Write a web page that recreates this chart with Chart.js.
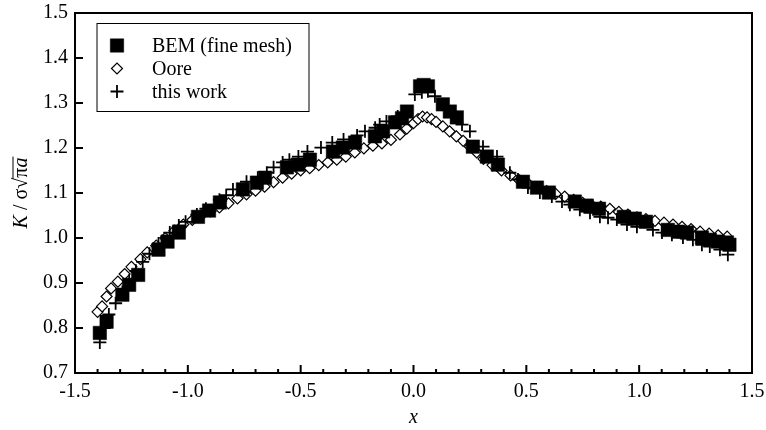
<!DOCTYPE html>
<html>
<head>
<meta charset="utf-8">
<script src="https://cdn.jsdelivr.net/npm/chart.js@4.4.0/dist/chart.umd.min.js"></script>
<style>
  body { margin: 0; background: #fff; }
  #box { width: 766px; height: 430px; }
</style>
</head>
<body>
<div id="box"><canvas id="grafico"></canvas></div>
<script>
// BEM (fine mesh)
var bemX = [-1.39, -1.36, -1.29, -1.26, -1.22, -1.13, -1.09, -1.04, -0.955, -0.906, -0.858, -0.756, -0.694, -0.658,
  -0.561, -0.512, -0.459, -0.357, -0.313, -0.259, -0.171, -0.135, -0.082, -0.051, -0.029, 0.029, 0.045, 0.064,
  0.130, 0.161, 0.192, 0.263, 0.325, 0.374, 0.485, 0.547, 0.600, 0.715, 0.768, 0.822, 0.932, 0.981, 1.030,
  1.127, 1.172, 1.212, 1.278, 1.313, 1.349, 1.389, 1.40]
var bemY = [0.789, 0.814, 0.874, 0.896, 0.918, 0.974, 0.992, 1.012, 1.047, 1.061, 1.079, 1.108, 1.123, 1.134,
  1.157, 1.163, 1.174, 1.192, 1.201, 1.212, 1.226, 1.237, 1.257, 1.266, 1.281, 1.337, 1.340, 1.337,
  1.297, 1.281, 1.268, 1.203, 1.181, 1.163, 1.125, 1.112, 1.101, 1.081, 1.072, 1.065, 1.047, 1.043, 1.036,
  1.018, 1.014, 1.012, 1.001, 0.996, 0.992, 0.990, 0.985]

// Oore
var ooreX = [-1.40, -1.38, -1.36, -1.34, -1.31, -1.28, -1.25, -1.21, -1.18, -1.14, -1.10, -1.06, -1.02, -0.98,
  -0.94, -0.90, -0.86, -0.82, -0.78, -0.74, -0.70, -0.66, -0.62, -0.58, -0.54, -0.50, -0.46, -0.42, -0.38,
  -0.34, -0.30, -0.26, -0.22, -0.18, -0.14, -0.10, -0.06, -0.03, 0.00, 0.02, 0.04, 0.06, 0.08, 0.10, 0.13,
  0.16, 0.19, 0.22, 0.25, 0.28, 0.31, 0.35, 0.39, 0.43, 0.47, 0.51, 0.55, 0.59, 0.63, 0.67, 0.71, 0.75,
  0.79, 0.83, 0.87, 0.91, 0.95, 0.99, 1.03, 1.07, 1.11, 1.15, 1.19, 1.23, 1.27, 1.31, 1.35, 1.39]
var ooreY = [0.836, 0.848, 0.870, 0.888, 0.903, 0.920, 0.936, 0.953, 0.968, 0.983, 1.000, 1.016, 1.030, 1.040,
  1.050, 1.059, 1.068, 1.077, 1.088, 1.097, 1.105, 1.114, 1.124, 1.134, 1.143, 1.150, 1.155, 1.162, 1.168,
  1.174, 1.181, 1.190, 1.199, 1.205, 1.210, 1.218, 1.230, 1.243, 1.255, 1.264, 1.270, 1.268, 1.264, 1.258, 1.248,
  1.237, 1.226, 1.216, 1.203, 1.190, 1.176, 1.162, 1.150, 1.139, 1.128, 1.120, 1.112, 1.104, 1.098, 1.092, 1.085, 1.078,
  1.073, 1.070, 1.065, 1.058, 1.052, 1.046, 1.042, 1.038, 1.034, 1.030, 1.025, 1.020, 1.014, 1.010, 1.006, 1.003]

// this work
var workX = [-1.39, -1.37, -1.35, -1.32, -1.29, -1.26, -1.23, -1.20, -1.17, -1.13, -1.08, -1.04, -1.01, -0.96,
  -0.92, -0.86, -0.83, -0.80, -0.74, -0.69, -0.65, -0.62, -0.58, -0.55, -0.51, -0.47, -0.41, -0.36, -0.31,
  -0.25, -0.215, -0.17, -0.15, -0.12, -0.07, 0.006, 0.037, 0.064, 0.095, 0.148, 0.215, 0.25, 0.308, 0.370,
  0.427, 0.463, 0.507, 0.560, 0.613, 0.658, 0.693, 0.737, 0.782, 0.826, 0.862, 0.901, 0.946, 0.990, 1.061,
  1.101, 1.145, 1.194, 1.238, 1.278, 1.313, 1.358, 1.393]
var workY = [0.768, 0.800, 0.830, 0.855, 0.880, 0.905, 0.927, 0.947, 0.965, 0.988, 1.012, 1.028, 1.036, 1.052,
  1.065, 1.085, 1.095, 1.108, 1.125, 1.134, 1.145, 1.157, 1.168, 1.174, 1.181, 1.192, 1.201, 1.212, 1.219,
  1.228, 1.237, 1.245, 1.252, 1.259, 1.270, 1.319, 1.324, 1.326, 1.315, 1.286, 1.252, 1.237, 1.203, 1.181,
  1.145, 1.130, 1.112, 1.101, 1.092, 1.081, 1.074, 1.063, 1.056, 1.047, 1.045, 1.041, 1.030, 1.025, 1.018,
  1.012, 1.007, 1.001, 0.996, 0.985, 0.981, 0.974, 0.963]

var fonte = "Liberation Serif"

function pontos(xs, ys) {
  return xs.map((v, i) => ({ x: v, y: ys[i] }))
}

// caixa dos eixos com ticks para dentro
var eixos = {
  id: 'eixos',
  afterDraw(chart) {
    var ctx = chart.ctx
    var a = chart.chartArea
    var x = chart.scales.x
    var y = chart.scales.y
    ctx.save()
    ctx.strokeStyle = '#000'
    ctx.lineWidth = 2
    ctx.strokeRect(a.left, a.top, a.right - a.left, a.bottom - a.top)
    ctx.beginPath()
    for (var i = -15; i <= 15; i++) {
      var px = x.getPixelForValue(i / 10)
      var len = (i % 5 === 0) ? 8 : 4
      ctx.moveTo(px, a.bottom)
      ctx.lineTo(px, a.bottom - len)
    }
    y.ticks.forEach(t => {
      var py = y.getPixelForValue(t.value)
      ctx.moveTo(a.left, py)
      ctx.lineTo(a.left + 8, py)
    })
    ctx.stroke()

    // titulo do eixo y: K / σ√(πa)
    ctx.translate(22, (a.top + a.bottom) / 2)
    ctx.rotate(-Math.PI / 2)
    ctx.fillStyle = '#000'
    ctx.textBaseline = 'middle'
    ctx.textAlign = 'left'
    var partes = [
      { t: 'K', f: 'italic 20px ' + fonte },
      { t: ' / σ', f: '20px ' + fonte },
      { t: '√', f: '20px ' + fonte },
      { t: 'π', f: '20px ' + fonte, barra: true },
      { t: 'a', f: 'italic 20px ' + fonte, barra: true }
    ]
    var total = 0
    partes.forEach(p => { ctx.font = p.f; p.w = ctx.measureText(p.t).width; total += p.w })
    var cx = -total / 2
    var inicioBarra = null
    partes.forEach(p => {
      ctx.font = p.f
      ctx.fillText(p.t, cx, 0)
      if (p.barra && inicioBarra === null) inicioBarra = cx
      cx += p.w
    })
    ctx.lineWidth = 1
    ctx.beginPath()
    ctx.moveTo(inicioBarra - 1, -9)
    ctx.lineTo(cx + 1, -9)
    ctx.stroke()
    ctx.restore()

    // legenda
    ctx.save()
    var lx = a.left + 22
    var ly = a.top + 10.5
    ctx.strokeStyle = '#000'
    ctx.lineWidth = 1
    ctx.strokeRect(lx, ly, 212, 88)
    ctx.font = '20px ' + fonte
    ctx.textBaseline = 'middle'
    ctx.fillStyle = '#000'
    var ordem = [0, 1, 2]
    ordem.forEach((k, j) => {
      var ds = chart.data.datasets[k]
      var my = ly + 22 + j * 23
      ctx.fillStyle = ds.pointBackgroundColor
      ctx.strokeStyle = ds.pointBorderColor
      ctx.lineWidth = ds.pointBorderWidth
      Chart.helpers.drawPoint(ctx, {
        pointStyle: ds.pointStyle,
        radius: ds.pointRadius,
        rotation: 0,
        borderWidth: ds.pointBorderWidth
      }, lx + 20, my)
      ctx.fillStyle = '#000'
      ctx.fillText(ds.label, lx + 55, my + 1)
    })
    ctx.restore()
  }
}

var canvas = document.getElementById("grafico")

var grafico = new Chart(canvas, {
  type: 'scatter',
  data: {
    datasets: [{
      label: 'BEM (fine mesh)',
      data: pontos(bemX, bemY),
      pointStyle: 'rect',
      pointRadius: 9.5,
      pointBackgroundColor: '#000',
      pointBorderColor: '#000',
      pointBorderWidth: 0.5,
      order: 2
    }, {
      label: 'Oore',
      data: pontos(ooreX, ooreY),
      pointStyle: 'rectRot',
      pointRadius: 5.5,
      pointBackgroundColor: '#fff',
      pointBorderColor: '#000',
      pointBorderWidth: 1.2,
      order: 3
    }, {
      label: 'this work',
      data: pontos(workX, workY),
      pointStyle: 'cross',
      pointRadius: 6.5,
      pointBackgroundColor: '#000',
      pointBorderColor: '#000',
      pointBorderWidth: 1.8,
      order: 1
    }]
  },
  options: {
    responsive: true,
    maintainAspectRatio: false,
    animation: false,
    layout: { padding: { top: 13, right: 14, left: 0, bottom: 0 } },
    plugins: {
      legend: { display: false },
      tooltip: { enabled: false }
    },
    scales: {
      x: {
        type: 'linear',
        min: -1.5,
        max: 1.5,
        grid: { display: false, drawTicks: false },
        border: { display: false },
        ticks: {
          stepSize: 0.5,
          padding: 7,
          color: '#000',
          font: { family: fonte, size: 20 },
          maxRotation: 0,
          callback: v => v.toFixed(1)
        },
        title: {
          display: true,
          text: 'x',
          color: '#000',
          font: { family: fonte, size: 20, style: 'italic' },
          padding: { top: 0, bottom: 0 }
        },
        afterFit: s => { s.height = 57; s.paddingLeft = 0; s.paddingRight = 0 }
      },
      y: {
        min: 0.7,
        max: 1.5,
        grid: { display: false, drawTicks: false },
        border: { display: false },
        ticks: {
          stepSize: 0.1,
          padding: 7,
          color: '#000',
          font: { family: fonte, size: 20 },
          callback: v => v.toFixed(1)
        },
        afterFit: s => { s.width = 75; s.paddingTop = 0; s.paddingBottom = 0 }
      }
    }
  },
  plugins: [eixos]
})
</script>
</body>
</html>
